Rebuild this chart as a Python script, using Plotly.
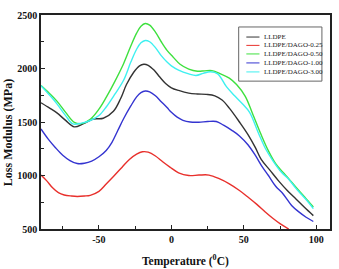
import plotly.graph_objects as go

# ---- data ----
lldpe_x = [-90, -84, -79, -73, -67, -61, -54, -47, -40, -35, -31, -26, -22, -19, -16, -12, -8, -4, 0, 5, 12, 18, 24, 30, 35, 40, 47, 53, 58, 62, 68, 74, 80, 86, 92, 98]
lldpe_y = [1680, 1630, 1585, 1515, 1455, 1482, 1528, 1535, 1600, 1720, 1850, 1965, 2025, 2040, 2030, 1985, 1920, 1860, 1820, 1795, 1770, 1762, 1758, 1745, 1705, 1630, 1500, 1380, 1260, 1150, 1050, 950, 860, 780, 700, 625]

d025_x = [-90, -86, -82, -78, -74, -69, -65, -60, -56, -50, -45, -40, -34, -29, -24, -20, -16, -11, -6, -1, 5, 12, 19, 26, 33, 40, 47, 53, 59, 65, 70, 75, 81]
d025_y = [1005, 950, 885, 840, 818, 808, 804, 808, 815, 852, 920, 990, 1078, 1150, 1200, 1222, 1218, 1182, 1128, 1078, 1025, 1000, 1004, 1004, 970, 922, 860, 797, 730, 657, 600, 550, 500]

d050_x = [-90, -84, -79, -73, -67, -62, -56, -50, -45, -39, -33, -28, -24, -21, -18, -15, -11, -7, -3, 1, 6, 12, 18, 23, 28, 34, 40, 45, 51, 56, 62, 67, 72, 77, 81, 86, 92, 98]
d050_y = [1840, 1765, 1695, 1590, 1497, 1485, 1525, 1620, 1730, 1880, 2045, 2210, 2330, 2395, 2420, 2405, 2340, 2250, 2170, 2110, 2040, 1995, 1975, 1978, 1980, 1950, 1910, 1850, 1740, 1580, 1380, 1230, 1110, 1030, 970, 890, 800, 705]

d100_x = [-90, -85, -80, -75, -70, -65, -60, -55, -50, -45, -41, -37, -33, -28, -24, -21, -18, -15, -11, -7, -3, 0, 4, 8, 13, 19, 25, 31, 36, 42, 47, 53, 58, 63, 67, 72, 77, 83, 88, 93, 98]
d100_y = [1435, 1340, 1260, 1190, 1140, 1112, 1115, 1135, 1175, 1234, 1310, 1420, 1530, 1650, 1735, 1775, 1790, 1782, 1745, 1690, 1635, 1590, 1545, 1516, 1500, 1498, 1505, 1505, 1470, 1420, 1370, 1285, 1187, 1075, 1000, 900, 830, 720, 660, 610, 570]

d300_x = [-90, -84, -79, -73, -68, -62, -56, -50, -45, -39, -33, -28, -24, -21, -18, -15, -11, -7, -3, 0, 5, 12, 17, 22, 27, 32, 38, 44, 49, 54, 60, 65, 70, 76, 81, 86, 90, 94, 98]
d300_y = [1840, 1750, 1670, 1560, 1482, 1490, 1514, 1560, 1640, 1760, 1890, 2060, 2180, 2240, 2262, 2250, 2195, 2120, 2060, 2025, 1985, 1950, 1935, 1955, 1970, 1950, 1830, 1740, 1670, 1590, 1400, 1250, 1140, 1030, 965, 880, 820, 760, 690]

names = ["LLDPE", "LLDPE/DAGO-0.25", "LLDPE/DAGO-0.50", "LLDPE/DAGO-1.00", "LLDPE/DAGO-3.00"]
colors = ["#333333", "#e8302c", "#3ee03e", "#3434d0", "#3ef0f0"]
series = [(lldpe_x, lldpe_y), (d025_x, d025_y), (d050_x, d050_y), (d100_x, d100_y), (d300_x, d300_y)]

x_ticks = [-50, 0, 50, 100]
y_ticks = [500, 1000, 1500, 2000, 2500]

SERIF = "Liberation Serif, Times New Roman, serif"

fig = go.Figure()
for (xs, ys), name, col in zip(series, names, colors):
    fig.add_trace(go.Scatter(x=xs, y=ys, mode="lines", name=name,
                             line=dict(color=col, width=1.4, shape="spline", smoothing=1.0),
                             showlegend=False))

# manual legend
lx0, lx1, tx = 0.7105, 0.756, 0.763
ly = [0.897, 0.858, 0.818, 0.776, 0.734]
fig.add_shape(type="rect", xref="paper", yref="paper", x0=0.684, x1=0.972, y0=0.691, y1=0.944,
              line=dict(color="#666666", width=1), fillcolor="white", layer="above")
for name, col, yy in zip(names, colors, ly):
    fig.add_shape(type="line", xref="paper", yref="paper", x0=lx0, x1=lx1, y0=yy, y1=yy,
                  line=dict(color=col, width=1), layer="above")
    fig.add_annotation(text=name, xref="paper", yref="paper", x=tx, y=yy, xanchor="left",
                       yanchor="middle", showarrow=False,
                       font=dict(family=SERIF, size=7, color="#222222"))

fig.add_annotation(text="<b>Temperature (<sup>0</sup>C)</b>", xref="paper", yref="paper",
                   x=0.5, y=-0.145, xanchor="center", yanchor="middle", showarrow=False,
                   font=dict(family=SERIF, size=11.5, color="#111111"))
fig.add_annotation(text="<b>Loss Modulus (MPa)</b>", xref="paper", yref="paper",
                   x=-0.116, y=0.45, xanchor="center", yanchor="middle", showarrow=False,
                   textangle=-90, font=dict(family=SERIF, size=12, color="#111111"))

axis_common = dict(showgrid=False, zeroline=False, showline=True, linecolor="#222222",
                   linewidth=1.5, mirror=True, ticks="inside", ticklen=4, tickwidth=1,
                   tickcolor="#222222",
                   tickfont=dict(family=SERIF, size=10, color="#111111", weight="bold"))

fig.update_xaxes(range=[-90, 109.5], tickvals=x_ticks, ticktext=[str(v) for v in x_ticks],
                 minor=dict(ticks="inside", ticklen=3, tickvals=[-75, -25, 25, 75], tickcolor="#222222"),
                 **axis_common)
fig.update_yaxes(range=[500, 2500], tickvals=y_ticks, ticktext=[str(v) for v in y_ticks],
                 minor=dict(ticks="inside", ticklen=3, tickvals=[750, 1250, 1750, 2250], tickcolor="#222222"),
                 **axis_common)

fig.update_layout(width=339, height=269, margin=dict(l=41, r=7, t=15, b=40),
                  paper_bgcolor="white", plot_bgcolor="white", showlegend=False)

fig.write_html("out.html")
